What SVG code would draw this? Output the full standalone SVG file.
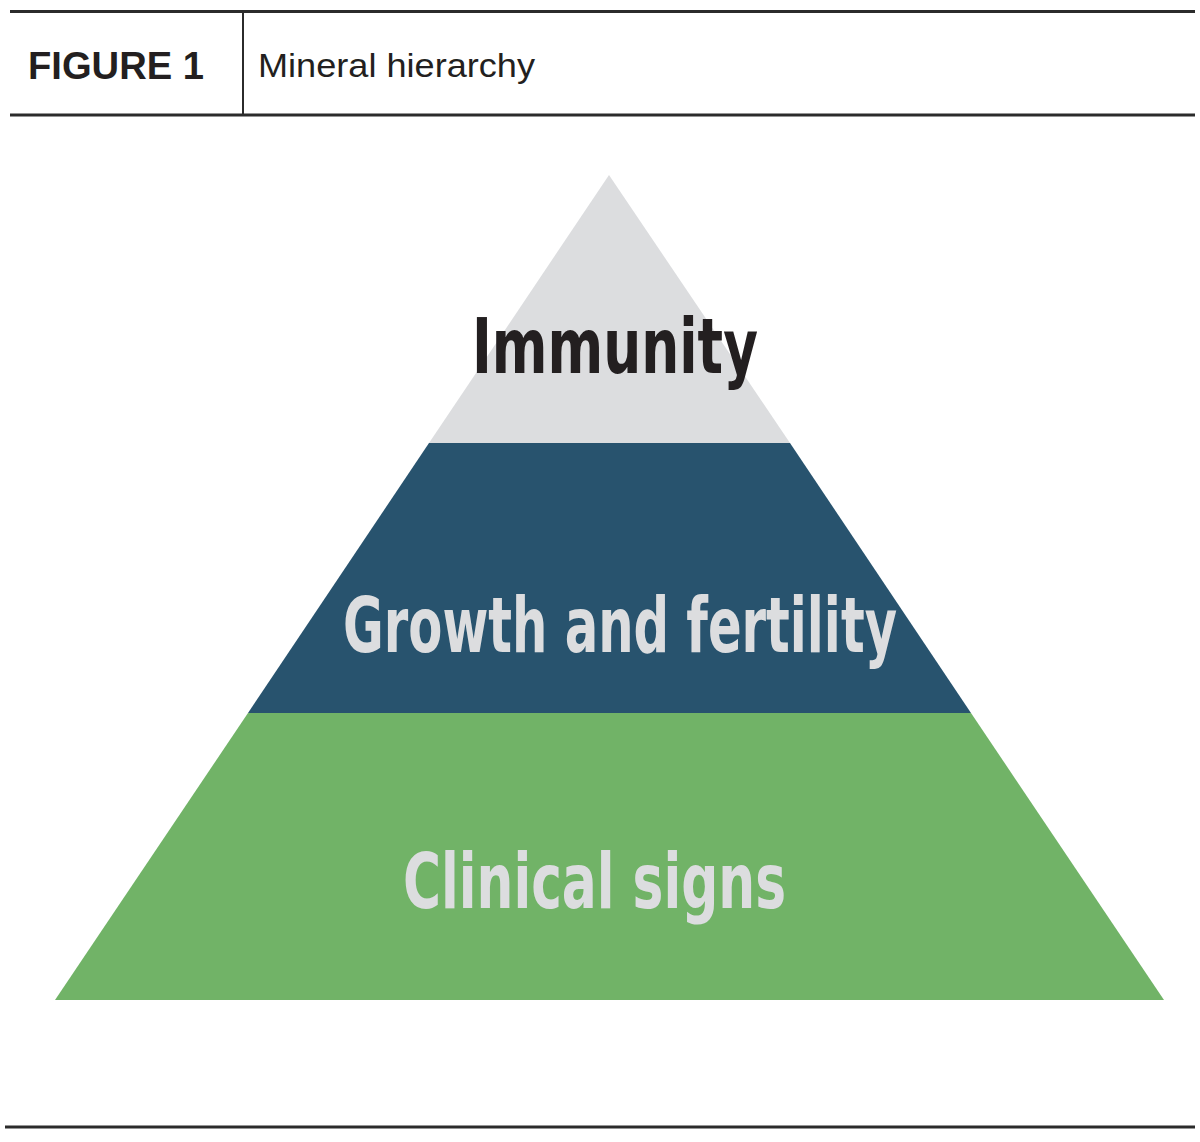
<svg xmlns="http://www.w3.org/2000/svg" width="1200" height="1142" viewBox="0 0 1200 1142">
<style>
.rule{stroke:#2b2b2b;stroke-width:3;fill:none}
.hdr{font-family:"Liberation Sans","DejaVu Sans",sans-serif;fill:#231f20}
.lbl{font-family:"Liberation Sans Narrow","DejaVu Sans Condensed","Liberation Sans",sans-serif;font-weight:bold;font-size:76px}
</style>
<rect width="1200" height="1142" fill="#ffffff"/>
<g id="header">
<line class="rule" x1="10" y1="11.5" x2="1195" y2="11.5"/>
<line class="rule" x1="10" y1="115" x2="1195" y2="115"/>
<line x1="243" y1="11" x2="243" y2="115" stroke="#2b2b2b" stroke-width="2"/>
<text class="hdr" x="28" y="79" font-size="38" font-weight="bold" textLength="176" lengthAdjust="spacingAndGlyphs">FIGURE 1</text>
<text class="hdr" x="258" y="77" font-size="34" textLength="277" lengthAdjust="spacingAndGlyphs">Mineral hierarchy</text>
</g>
<g id="tier-immunity">
<polygon points="609,175 790,443 429,443" fill="#dcdddf"/>
<text class="lbl" x="472" y="373" fill="#231f20" textLength="286" lengthAdjust="spacingAndGlyphs">Immunity</text>
</g>
<g id="tier-growth">
<polygon points="429,443 790,443 971,713 248,713" fill="#28536e"/>
<text class="lbl" x="343" y="652" fill="#dcdddf" textLength="554" lengthAdjust="spacingAndGlyphs">Growth and fertility</text>
</g>
<g id="tier-clinical">
<polygon points="248,713 971,713 1164,1000 55,1000" fill="#71b367"/>
<text class="lbl" x="403" y="908" fill="#dcdddf" textLength="383" lengthAdjust="spacingAndGlyphs">Clinical signs</text>
</g>
<g id="connectors"></g>
<g id="footer">
<line class="rule" x1="5" y1="1127" x2="1195" y2="1127"/>
</g>
</svg>
